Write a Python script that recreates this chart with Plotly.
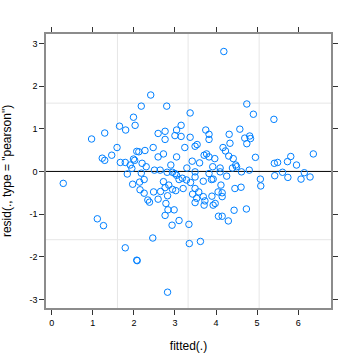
import plotly.graph_objects as go

fitted = [0.28, 0.97, 1.11, 1.26, 1.29, 1.23, 1.29, 1.46, 1.59, 1.65, 1.80, 1.67, 1.79,
          1.99, 2.03, 2.18, 2.41, 2.80, 3.37, 2.59, 2.76, 2.76, 3.04, 3.15, 3.00, 3.15, 3.37,
          2.07, 2.12, 2.27, 2.47, 2.59, 2.72, 3.04, 3.24, 3.49, 3.54, 1.91, 1.99, 2.02, 1.95,
          1.84, 2.20, 2.30, 2.50, 2.64, 2.81, 2.90, 2.94, 3.00, 3.04, 3.10, 3.18, 3.29, 3.42,
          3.28, 3.38, 3.49, 3.49, 3.60, 1.97, 2.14, 2.25, 2.15, 2.25, 2.34, 2.38, 2.48, 2.59,
          2.65, 2.72, 2.76, 2.85, 2.82, 2.78, 2.83, 2.76, 2.98, 2.94, 3.02, 3.20, 3.43, 3.49,
          3.49, 3.53, 2.93, 3.10, 3.34, 3.35, 3.62, 2.46, 1.79, 2.07, 2.08, 2.82,
          4.19, 4.75, 4.91, 5.41, 3.75, 3.83, 3.83, 4.32, 4.34, 4.17, 4.23, 4.58, 4.70, 4.82,
          4.84, 4.75, 3.71, 3.77, 3.83, 3.97, 4.31, 4.42, 4.96, 5.82, 6.37, 5.96, 5.74, 5.42,
          5.50, 5.62, 5.43, 5.75, 6.07, 6.15, 6.29, 5.08, 5.09, 4.81, 4.62, 4.48, 4.50, 4.40,
          4.26, 4.10, 4.10, 3.92, 3.83, 3.89, 3.93, 3.69, 3.58, 3.69, 3.90, 4.05, 4.12, 4.15,
          4.15, 4.46, 4.61, 3.71, 3.93, 3.98, 4.44, 4.74, 4.06, 4.15, 4.30, 2.18, 3.73]

resid = [-0.28, 0.76, -1.11, -1.27, 0.90, 0.31, 0.26, 0.38, 0.56, 1.06, 0.97, 0.21, 0.21,
         1.27, 1.08, 1.53, 1.79, 1.53, 1.37, 0.89, 0.94, 0.75, 0.97, 1.08, 0.84, 0.82, 0.80,
         0.47, 0.46, 0.49, 0.56, 0.34, 0.41, 0.34, 0.56, 0.59, 0.63, 0.15, 0.29, 0.26, 0.07,
         -0.06, 0.19, 0.11, 0.03, 0.03, -0.02, 0.15, -0.02, -0.05, -0.09, -0.19, -0.16, 0.08, 0.24,
         -0.20, -0.26, -0.13, -0.01, 0.20, -0.30, -0.25, -0.19, -0.43, -0.51, -0.67, -0.72, -0.48, -0.65,
         -0.47, -0.24, -0.38, -0.32, -0.57, -0.75, -0.90, -1.03, -0.90, -0.42, -0.45, -0.40, -0.53, -0.40,
         -0.73, -0.63, -1.26, -1.15, -1.24, -1.69, -1.64, -1.56, -1.79, -2.08, -2.09, -2.83,
         2.81, 1.58, 1.34, 1.22, 0.97, 0.87, 0.75, 0.87, 0.66, 0.56, 0.48, 0.99, 0.78, 0.83,
         0.77, 0.65, 0.38, 0.41, 0.34, 0.30, 0.36, 0.30, 0.33, 0.35, 0.41, 0.15, 0.23, 0.19,
         0.21, -0.02, -0.10, -0.14, -0.18, -0.03, -0.13, -0.18, -0.34, 0.03, -0.01, 0.15, 0.11, 0.08,
         -0.11, 0.08, -0.01, 0.11, -0.05, -0.19, -0.18, -0.23, -0.48, -0.59, -0.58, -0.48, -0.32, -0.50,
         -0.59, -0.40, -0.37, -0.79, -0.79, -0.75, -0.91, -0.88, -1.05, -1.05, -1.16, -0.04, -0.69]

x_ticks = [0, 1, 2, 3, 4, 5, 6]
y_ticks = [-3, -2, -1, 0, 1, 2, 3]
grid_x = [1.6, 3.32, 5.05]
grid_y = [-1.6, 1.6]

fig = go.Figure()
fig.add_trace(go.Scatter(
    x=fitted, y=resid, mode="markers",
    marker=dict(symbol="circle-open", size=6.5, color="#0080ff", line=dict(width=1, color="#0080ff")),
    showlegend=False, hoverinfo="skip"))

shapes = []
for gx in grid_x:
    shapes.append(dict(type="line", xref="x", yref="paper", x0=gx, x1=gx, y0=0, y1=1,
                       line=dict(color="#e6e6e6", width=1), layer="below"))
for gy in grid_y:
    shapes.append(dict(type="line", xref="paper", yref="y", x0=0, x1=1, y0=gy, y1=gy,
                       line=dict(color="#e6e6e6", width=1), layer="below"))
shapes.append(dict(type="line", xref="paper", yref="y", x0=0, x1=1, y0=0, y1=0,
                   line=dict(color="black", width=1), layer="below"))

axis_common = dict(showgrid=False, zeroline=False, showline=True, linecolor="#8c8c8c",
                   linewidth=1.5, mirror="ticks", ticks="outside", ticklen=5, tickwidth=1,
                   tickcolor="#333333", automargin=False,
                   tickfont=dict(family="Liberation Sans", size=9, color="black"))

fig.update_layout(
    width=360, height=360,
    margin=dict(l=46, r=29, t=34, b=52, autoexpand=False),
    paper_bgcolor="white", plot_bgcolor="white",
    shapes=shapes,
    hovermode=False,
    xaxis=dict(range=[-0.14, 6.80], tickvals=x_ticks, ticktext=[str(v) for v in x_ticks],
               title=dict(text="fitted(.)", font=dict(family="Liberation Sans", size=12, color="black")),
               **axis_common),
    yaxis=dict(range=[-3.20, 3.22], tickvals=y_ticks, ticktext=[str(v) for v in y_ticks],
               title=dict(text='resid(., type = "pearson")',
                          font=dict(family="Liberation Sans", size=12, color="black")),
               **axis_common),
)

fig.write_html("out.html", config={"displayModeBar": False},
               post_script="document.body.style.margin='0';")
